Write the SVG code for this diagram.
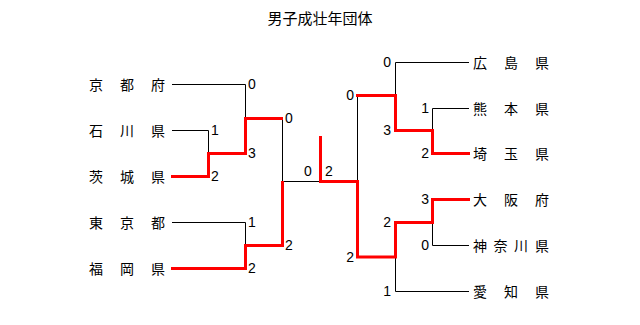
<svg xmlns="http://www.w3.org/2000/svg" width="640" height="325" viewBox="0 0 640 325">
<style>
.bg{fill:#fff}
.title{font-family:"Noto Sans CJK JP","Liberation Sans",sans-serif;font-size:15px;fill:#000;text-anchor:middle}
.team{font-family:"Noto Sans CJK JP","Liberation Sans",sans-serif;font-size:14px;fill:#000;text-anchor:middle}
.sc{font-family:"Liberation Sans",Arial,sans-serif;font-size:14px;fill:#000}
.l{text-anchor:start}
.r{text-anchor:end}
.blk{fill:none;stroke:#000;stroke-width:1}
.red{fill:none;stroke:#ff0000;stroke-width:3;stroke-linejoin:miter}
</style>
<rect class="bg" x="0" y="0" width="640" height="325"/>
<text class="title" x="320" y="24">男子成壮年団体</text>

<g id="connectors">
  <path class="blk" d="M172,84.5 H245.5 V118"/>
  <path class="blk" d="M172,130.5 H208.5 V153"/>
  <path class="blk" d="M172,222.5 H245.5 V245"/>
  <path class="blk" d="M282.5,118 V181.5 H320"/>
  <path class="blk" d="M469,62.5 H395.5 V95"/>
  <path class="blk" d="M469,108.5 H432.5 V130"/>
  <path class="blk" d="M469,245.5 H432.5 V222"/>
  <path class="blk" d="M469,291.5 H395.5 V257"/>
  <path class="blk" d="M357.5,95 V181"/>
  <path class="red" d="M171,176.5 H208.5 V153.5 H245.5 V118.5 H283"/>
  <path class="red" d="M171,268.5 H245.5 V245.5 H282.5 V181"/>
  <path class="red" d="M470,153.5 H432.5 V130.5 H395.5 V95.5 H356"/>
  <path class="red" d="M470,199.5 H432.5 V222.5 H395.5 V257 H357.5 V181.5 H320.5 V136"/>
</g>

<g id="kyoto"><text class="team" x="96 127 158" y="89.5">京都府</text></g>
<g id="ishikawa"><text class="team" x="96 127 158" y="135.5">石川県</text></g>
<g id="ibaraki"><text class="team" x="96 127 158" y="181.5">茨城県</text></g>
<g id="tokyo"><text class="team" x="96 127 158" y="227.5">東京都</text></g>
<g id="fukuoka"><text class="team" x="96 127 158" y="273.5">福岡県</text></g>

<g id="hiroshima"><text class="team" x="480 511 542" y="67.5">広島県</text></g>
<g id="kumamoto"><text class="team" x="480 511 542" y="113.5">熊本県</text></g>
<g id="saitama"><text class="team" x="480 511 542" y="158.5">埼玉県</text></g>
<g id="osaka"><text class="team" x="480 511 542" y="204.5">大阪府</text></g>
<g id="kanagawa"><text class="team" x="480 500.5 521 542" y="250.5">神奈川県</text></g>
<g id="aichi"><text class="team" x="480 511 542" y="296.5">愛知県</text></g>

<g id="scores">
  <text class="sc l" x="248" y="89">0</text>
  <text class="sc l" x="211" y="135">1</text>
  <text class="sc l" x="248" y="158">3</text>
  <text class="sc l" x="211" y="181">2</text>
  <text class="sc l" x="285" y="123">0</text>
  <text class="sc l" x="248" y="227">1</text>
  <text class="sc l" x="285" y="250">2</text>
  <text class="sc l" x="248" y="273">2</text>
  <text class="sc l" x="304" y="176">0</text>
  <text class="sc l" x="325" y="176">2</text>
  <text class="sc r" x="391" y="67">0</text>
  <text class="sc r" x="354" y="100">0</text>
  <text class="sc r" x="429" y="113">1</text>
  <text class="sc r" x="391" y="135">3</text>
  <text class="sc r" x="429" y="158">2</text>
  <text class="sc r" x="429" y="204">3</text>
  <text class="sc r" x="391" y="227">2</text>
  <text class="sc r" x="429" y="250">0</text>
  <text class="sc r" x="354" y="262">2</text>
  <text class="sc r" x="391" y="296">1</text>
</g>
</svg>
